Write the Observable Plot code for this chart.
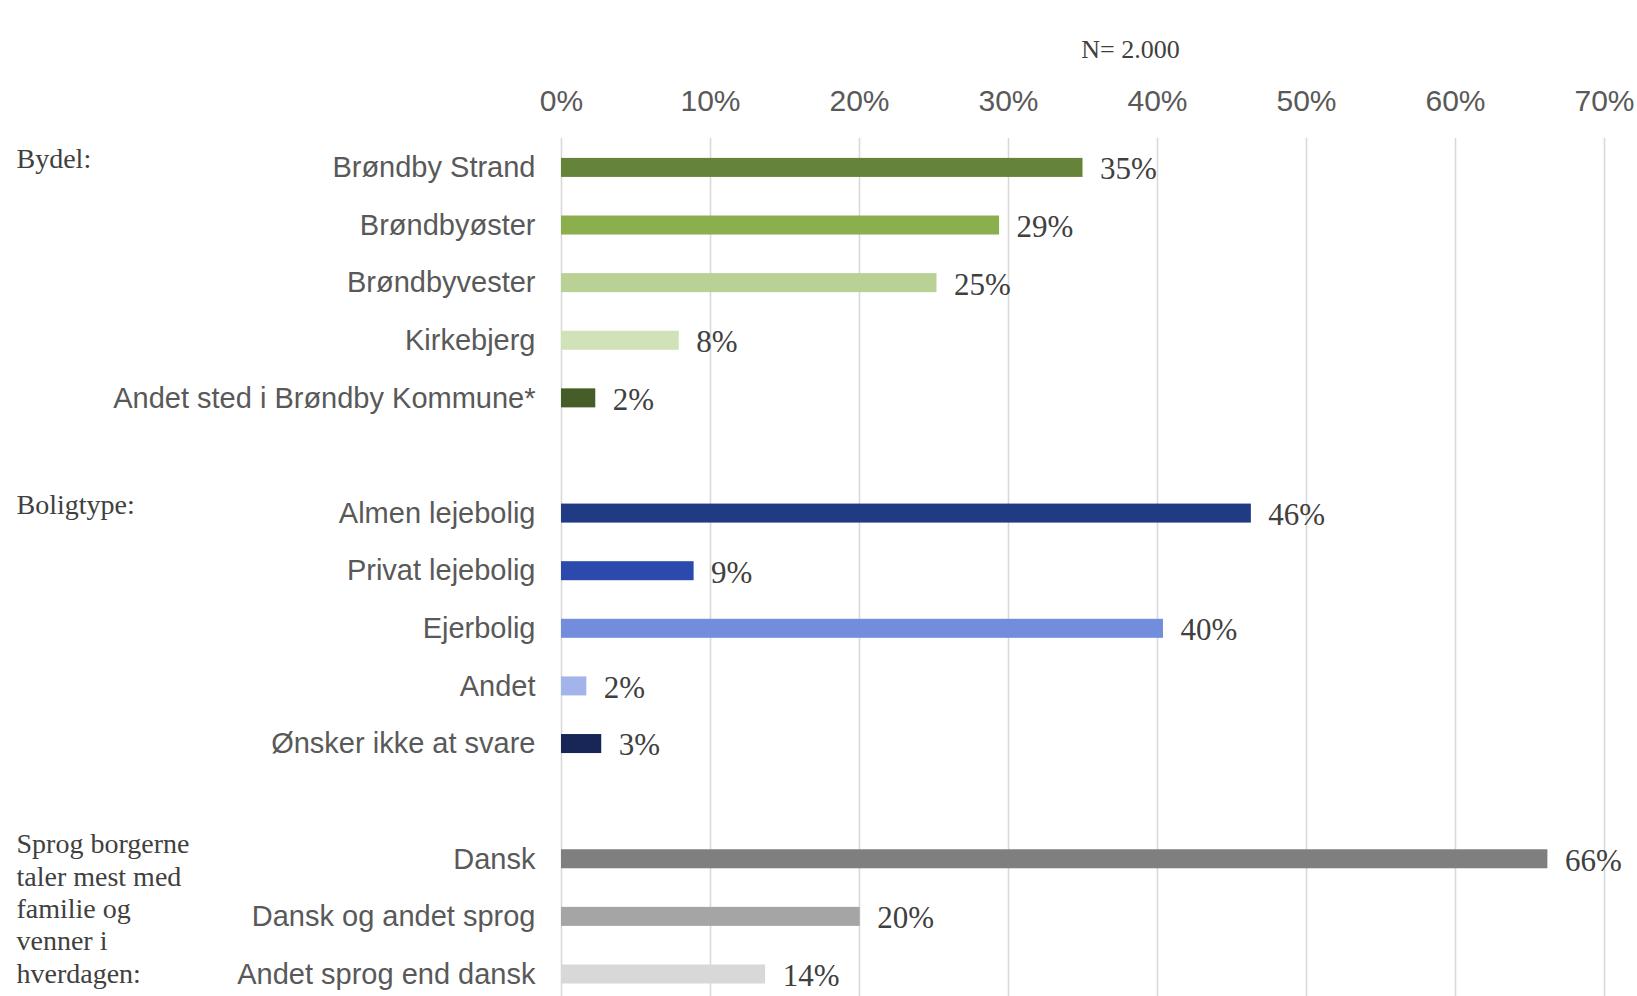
<!DOCTYPE html>
<html>
<head>
<meta charset="utf-8">
<script src="https://cdn.jsdelivr.net/npm/d3@7"></script>
<script src="https://cdn.jsdelivr.net/npm/@observablehq/plot@0.6"></script>
<style>
html, body { margin: 0; padding: 0; background: #ffffff; }
#chart { width: 1637px; height: 996px; overflow: hidden; }
</style>
</head>
<body>
<div id="chart"></div>
<script>
// ---- Data ----
const groupNames = ["Bydel:", "Boligtype:", "Sprog borgerne\ntaler mest med\nfamilie og\nvenner i\nhverdagen:"];
const bydelCategories = ["Brøndby Strand", "Brøndbyøster", "Brøndbyvester", "Kirkebjerg", "Andet sted i Brøndby Kommune*"];
const bydelValues = [35.0, 29.4, 25.2, 7.9, 2.3];
const bydelColors = ["#66833a", "#8aaf4c", "#b9d195", "#d1e1b8", "#455d27"];

const boligCategories = ["Almen lejebolig", "Privat lejebolig", "Ejerbolig", "Andet", "Ønsker ikke at svare"];
const boligValues = [46.3, 8.9, 40.4, 1.7, 2.7];
const boligColors = ["#213a84", "#2c4aae", "#728ddb", "#a3b4ea", "#172657"];

const sprogCategories = ["Dansk", "Dansk og andet sprog", "Andet sprog end dansk"];
const sprogValues = [66.2, 20.05, 13.7];
const sprogColors = ["#7f7f7f", "#a5a5a5", "#d8d8d8"];

const xTicks = [0, 10, 20, 30, 40, 50, 60, 70];
const nLabel = "N= 2.000";

// ---- Build rows (with spacer rows between groups) ----
const groupsData = [
  [bydelCategories, bydelValues, bydelColors],
  [boligCategories, boligValues, boligColors],
  [sprogCategories, sprogValues, sprogColors]
];
const rows = [];
const domain = [];
const groupLabels = [];
groupsData.forEach(([cats, vals, cols], gi) => {
  groupLabels.push({name: groupNames[gi], key: cats[0]});
  cats.forEach((c, i) => {
    rows.push({key: c, value: vals[i], color: cols[i]});
    domain.push(c);
  });
  if (gi < groupsData.length - 1) domain.push(" ".repeat(gi + 1));
});

const SANS = "Liberation Sans, Arial, Helvetica, sans-serif";
const SERIF = "Liberation Serif, Times New Roman, serif";

const chart = Plot.plot({
  width: 1637,
  height: 996,
  marginTop: 138,
  marginBottom: 0,
  marginLeft: 561,
  marginRight: 33,
  style: {background: "#ffffff", fontFamily: SANS},
  x: {domain: [0, 70], axis: null},
  y: {domain: domain, range: [138.6, 1002.8], paddingInner: 0.67, paddingOuter: 0.335, round: false, axis: null},
  color: {type: "identity"},
  marks: [
    Plot.gridX(xTicks, {stroke: "#d9d9d9", strokeOpacity: 1, strokeWidth: 1.6}),
    Plot.axisX(xTicks, {anchor: "top", tickSize: 0, tickPadding: 28, tickFormat: d => d + "%", fontSize: 30, fontFamily: SANS, color: "#595959", label: null}),
    Plot.axisY({anchor: "left", tickSize: 0, tickPadding: 26, tickFormat: d => d.trim() === "" ? "" : d, fontSize: 29, fontFamily: SANS, color: "#595959", label: null}),
    Plot.barX(rows, {x: "value", y: "key", fill: "color"}),
    Plot.text(rows, {x: "value", y: "key", text: d => Math.round(d.value) + "%", dx: 17, dy: 1.5, textAnchor: "start", fontFamily: SERIF, fontSize: 31, fill: "#404040"}),
    Plot.text(groupLabels.slice(0, 2), {y: "key", text: "name", frameAnchor: "left", textAnchor: "start", lineAnchor: "middle", dx: -545, dy: -9, fontFamily: SERIF, fontSize: 28, fill: "#404040"}),
    Plot.text(groupLabels.slice(2), {y: "key", text: "name", frameAnchor: "left", textAnchor: "start", lineAnchor: "top", lineHeight: 1.155, dx: -545, dy: -29, fontFamily: SERIF, fontSize: 28, fill: "#404040"}),
    Plot.text([nLabel], {text: d => d, frameAnchor: "top", lineAnchor: "middle", dx: 47.5, dy: -88.5, fontFamily: SERIF, fontSize: 26, fill: "#404040"})
  ]
});
document.getElementById("chart").appendChild(chart);
</script>
</body>
</html>
